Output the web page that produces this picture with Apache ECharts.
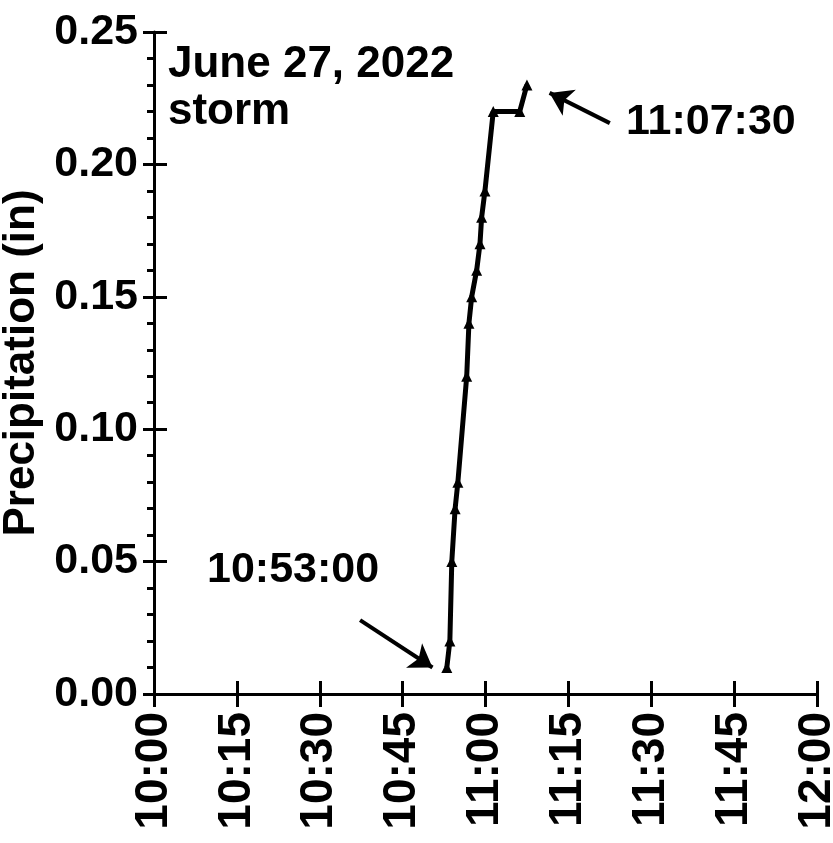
<!DOCTYPE html>
<html>
<head>
<meta charset="utf-8">
<script src="https://cdn.jsdelivr.net/npm/echarts@6/dist/echarts.min.js"></script>
<style>html,body{margin:0;padding:0;background:#fff}#c{width:833px;height:843px}</style>
</head>
<body>
<div id="c"></div>
<script>
// minutes after 10:00
const times = [53.0, 53.55, 53.9, 54.5, 55.0, 56.6, 57.0, 57.5, 58.4, 59.0, 59.3, 59.9, 61.4, 66.2, 67.5];
const precip = [0.01, 0.02, 0.05, 0.07, 0.08, 0.12, 0.14, 0.15, 0.16, 0.17, 0.18, 0.19, 0.22, 0.22, 0.23];
const xTickLabels = ['10:00','10:15','10:30','10:45','11:00','11:15','11:30','11:45','12:00'];
const yTickLabels = ['0.00','0.05','0.10','0.15','0.20','0.25'];
const titleLines = ['June 27, 2022', 'storm'];
const startLabel = '10:53:00';
const endLabel = '11:07:30';
// arrows: [tailX, tailY, headX, headY] in data units
const arrowEnd = [82.5, 0.2156, 71.6, 0.2270];
const arrowStart = [37.3, 0.0279, 50.4, 0.0100];

const FONT = "'Liberation Sans', Arial, sans-serif";
const chart = echarts.init(document.getElementById('c'), null, {renderer: 'canvas'});
const data = times.map((t, i) => [t, precip[i]]);

const axisLine = {show: true, lineStyle: {color: '#000', width: 3}};
const option = {
  animation: false,
  backgroundColor: '#fff',
  grid: {left: 154, right: 16, top: 32, bottom: 149, containLabel: false, outerBoundsMode: 'none'},
  xAxis: [
    {
      type: 'value', min: 0, max: 120, interval: 15,
      axisLine: axisLine,
      axisTick: {show: true, inside: false, length: 13, lineStyle: {color: '#000', width: 3}},
      splitLine: {show: false},
      axisLabel: {
        rotate: 90, margin: 18, color: '#000', fontFamily: FONT, fontWeight: 'bold', fontSize: 46,
        formatter: v => xTickLabels[Math.round(v / 15)]
      }
    },
    {
      type: 'value', min: 0, max: 120, interval: 15, position: 'bottom', offset: 0,
      axisLine: {show: false},
      axisTick: {show: true, inside: true, length: 13, lineStyle: {color: '#000', width: 3}},
      splitLine: {show: false}, axisLabel: {show: false}
    }
  ],
  yAxis: [
    {
      type: 'value', min: 0, max: 0.25, interval: 0.05,
      axisLine: axisLine,
      axisTick: {show: true, inside: false, length: 11, lineStyle: {color: '#000', width: 3}},
      minorTick: {show: true, splitNumber: 5, length: 7, lineStyle: {color: '#000', width: 3}},
      splitLine: {show: false},
      axisLabel: {
        margin: 16, color: '#000', fontFamily: FONT, fontWeight: 'bold', fontSize: 43,
        formatter: v => yTickLabels[Math.round(v / 0.05)]
      },
      name: 'Precipitation (in)', nameLocation: 'middle', nameRotate: 90, nameGap: 104,
      nameTextStyle: {color: '#000', fontFamily: FONT, fontWeight: 'bold', fontSize: 44}
    },
    {
      type: 'value', min: 0, max: 0.25, interval: 0.05, position: 'left', offset: 0,
      axisLine: {show: false},
      axisTick: {show: true, inside: true, length: 13, lineStyle: {color: '#000', width: 3}},
      splitLine: {show: false}, axisLabel: {show: false}
    }
  ],
  series: [
    {
      type: 'line', data: data, xAxisIndex: 0, yAxisIndex: 0,
      symbol: 'triangle', symbolSize: 11, showAllSymbol: true,
      lineStyle: {color: '#000', width: 5},
      itemStyle: {color: '#000'},
      markLine: {
        silent: true, animation: false,
        symbol: ['none', 'arrow'], symbolSize: 22,
        lineStyle: {color: '#000', width: 4, type: 'solid'},
        label: {show: false},
        data: [
          [{coord: [arrowEnd[0], arrowEnd[1]]}, {coord: [arrowEnd[2], arrowEnd[3]]}],
          [{coord: [arrowStart[0], arrowStart[1]]}, {coord: [arrowStart[2], arrowStart[3]]}]
        ]
      }
    }
  ],
  graphic: [
    {type: 'text', left: 168, top: 43, style: {text: titleLines[0], font: "bold 44px " + FONT, fill: '#000'}},
    {type: 'text', left: 168, top: 90, style: {text: titleLines[1], font: "bold 44px " + FONT, fill: '#000'}},
    {type: 'text', left: 626, top: 101, style: {text: endLabel, font: "bold 43px " + FONT, fill: '#000'}},
    {type: 'text', left: 207, top: 549, style: {text: startLabel, font: "bold 43px " + FONT, fill: '#000'}}
  ]
};
chart.setOption(option);
</script>
</body>
</html>
